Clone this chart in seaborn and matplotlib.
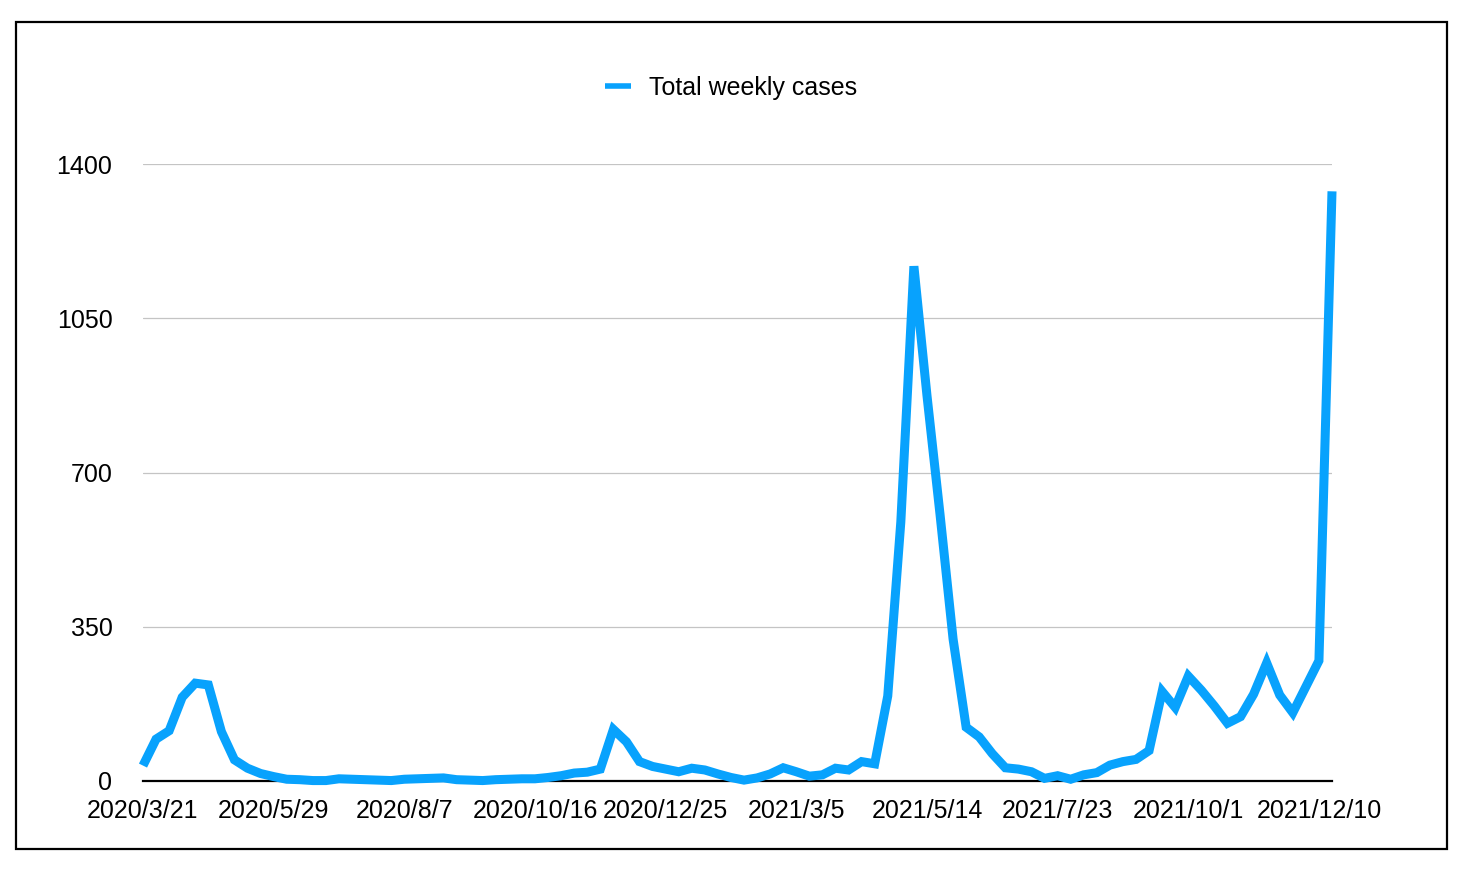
# Weekly case counts chart
import matplotlib
matplotlib.use("Agg")
import matplotlib.pyplot as plt
from matplotlib.patches import Rectangle
import pandas as pd
import seaborn as sns

# Data (one value per week)
total_weekly_cases = [
    35, 95, 114, 190, 222, 218, 112, 48, 29, 17,
    10, 4, 3, 1, 1, 5, 4, 3, 2, 1,
    4, 5, 6, 7, 3, 2, 1, 3, 4, 5,
    5, 8, 12, 18, 20, 27, 117, 89, 44, 33,
    27, 21, 29, 25, 16, 8, 2, 7, 16, 30,
    21, 11, 14, 29, 25, 44, 39, 193, 588, 1168,
    875, 605, 322, 122, 100, 62, 30, 27, 21, 6,
    12, 4, 14, 19, 36, 44, 49, 69, 203, 167,
    238, 206, 170, 131, 146, 197, 268, 195, 155, 214,
    273, 1338,
]
tick_labels = ["2020/3/21", "2020/5/29", "2020/8/7", "2020/10/16", "2020/12/25",
               "2021/3/5", "2021/5/14", "2021/7/23", "2021/10/1", "2021/12/10"]
y_ticks = [0, 350, 700, 1050, 1400]

df = pd.DataFrame({"week": range(len(total_weekly_cases)),
                   "cases": total_weekly_cases})

sns.set_style("white")
plt.rcParams["font.family"] = ["Liberation Sans", "DejaVu Sans"]

W, H = 1474, 876
fig = plt.figure(figsize=(W / 100, H / 100), dpi=100)
ax = fig.add_axes([143 / W, 1 - 781 / H, (1332 - 143) / W, (781 - 164) / H])

sns.lineplot(data=df, x="week", y="cases", ax=ax, color="#08a2fd",
             linewidth=6.5, label="Total weekly cases", legend=False,
             clip_on=False, solid_joinstyle="miter", solid_capstyle="butt",
             zorder=3)

ax.set_xlim(0, len(total_weekly_cases) - 1)
ax.set_ylim(0, 1400)
ax.set_xticks(range(0, 10 * len(tick_labels), 10))
ax.set_xticklabels(tick_labels)
ax.set_yticks(y_ticks)
ax.set_yticklabels([str(v) for v in y_ticks])
ax.tick_params(axis="x", length=0, pad=13, labelsize=18, colors="black")
ax.tick_params(axis="y", length=0, pad=22, labelsize=18, colors="black")
ax.set_xlabel("")
ax.set_ylabel("")

ax.yaxis.grid(True, color="#c4c4c4", linewidth=0.9)
ax.xaxis.grid(False)
for side in ["top", "right", "left"]:
    ax.spines[side].set_visible(False)
ax.spines["bottom"].set_color("black")
ax.spines["bottom"].set_linewidth(1.6)
ax.spines["bottom"].set_zorder(2)

handles, labels = ax.get_legend_handles_labels()
fig.legend(handles, labels, loc="center", bbox_to_anchor=(731 / W, 1 - 88 / H),
           frameon=False, fontsize=18, labelcolor="black",
           handlelength=1.05, handletextpad=0.7)
fig.legends[0].get_lines()[0].set_linewidth(4)

# outer frame
fig.patches.append(Rectangle((15.7 / W, 1 - 849.3 / H), (1447 - 15.7) / W,
                             (849.3 - 22) / H, transform=fig.transFigure,
                             fill=False, edgecolor="black", linewidth=1.6))

fig.savefig("out.png", dpi=100)
